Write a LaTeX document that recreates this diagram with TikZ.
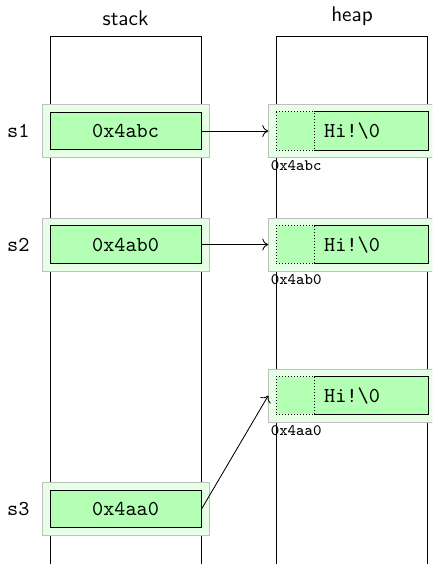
\documentclass[tikz,border=0pt]{standalone}
\usepackage{tikz}
\usetikzlibrary{calc,arrows.meta,positioning}
\definecolor{cell-fill}{HTML}{B3FFB3}
\definecolor{cell-bg}{HTML}{E6FFE6}
\definecolor{cell-rim}{HTML}{BFBFBF}

\begin{document}
\begin{tikzpicture}[>={Computer Modern Rightarrow[length=2.8pt, width=5.6pt]}, font=\ttfamily,
  cell/.style={draw, fill=cell-fill, minimum width=2.5cm, minimum height=0.62cm, inner sep=0pt},
  heapcell/.style={fill=cell-fill, minimum width=2.5cm, minimum height=0.62cm, inner sep=0pt},
  cellbg/.style={draw=cell-rim, fill=cell-bg, minimum width=2.76cm, minimum height=0.88cm},
  addr/.style={font=\ttfamily\fontsize{7.5}{9}\selectfont, anchor=north west, inner sep=1pt},
  title/.style={font=\sffamily, above=1.3pt}]
\useasboundingbox (-0.83,0.6) rectangle (6.33,-8.74);
\clip (-0.83,0.6) rectangle (6.33,-8.74);

% memory columns
\draw (0,-8.74) -- (0,0) -- (2.5,0) -- (2.5,-8.74);
\draw (3.75,-8.74) -- (3.75,0) -- (6.25,0) -- (6.25,-8.74);
\node[title] (stack) at (1.25,0) {stack};
\node[title] (heap) at (5,0) {heap};

% stack
\node[cellbg] (s1bg) at (1.25,-1.57) {};
\node[cell] (s1) at (s1bg) {0x4abc};
\node[left=0.08cm of s1bg] (s1name) {s1};
\node[cellbg] (s2bg) at (1.25,-3.45) {};
\node[cell] (s2) at (s2bg) {0x4ab0};
\node[left=0.08cm of s2bg] (s2name) {s2};
\node[cellbg] (s3bg) at (1.25,-7.83) {};
\node[cell] (s3) at (s3bg) {0x4aa0};
\node[left=0.08cm of s3bg] (s3name) {s3};

% heap
\node[cellbg] (h1bg) at (5,-1.57) {};
\node[heapcell] (h1) at (h1bg) {Hi!\textbackslash 0};
\draw[densely dotted] (h1.north west) rectangle ($(h1.south west)+(0.63,0)$);
\draw ($(h1.north west)+(0.63,0)$) -- (h1.north east) -- (h1.south east) -- ($(h1.south west)+(0.63,0)$);
\node[addr] (h1addr) at (h1bg.south west) {0x4abc};

\node[cellbg] (h2bg) at (5,-3.45) {};
\node[heapcell] (h2) at (h2bg) {Hi!\textbackslash 0};
\draw[densely dotted] (h2.north west) rectangle ($(h2.south west)+(0.63,0)$);
\draw ($(h2.north west)+(0.63,0)$) -- (h2.north east) -- (h2.south east) -- ($(h2.south west)+(0.63,0)$);
\node[addr] (h2addr) at (h2bg.south west) {0x4ab0};

\node[cellbg] (h3bg) at (5,-5.95) {};
\node[heapcell] (h3) at (h3bg) {Hi!\textbackslash 0};
\draw[densely dotted] (h3.north west) rectangle ($(h3.south west)+(0.63,0)$);
\draw ($(h3.north west)+(0.63,0)$) -- (h3.north east) -- (h3.south east) -- ($(h3.south west)+(0.63,0)$);
\node[addr] (h3addr) at (h3bg.south west) {0x4aa0};

% pointers
\draw[->] (s1.east) -- (h1bg.west);
\draw[->] (s2.east) -- (h2bg.west);
\draw[->] (s3.east) -- (h3bg.west);
\end{tikzpicture}
\end{document}
